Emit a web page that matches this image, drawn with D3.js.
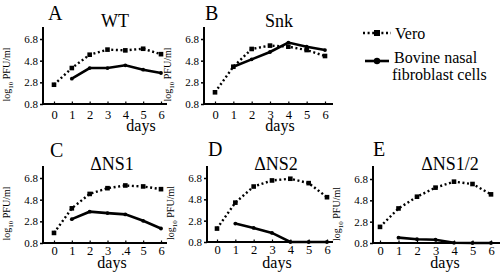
<!DOCTYPE html>
<html><head><meta charset="utf-8">
<script src="https://cdn.jsdelivr.net/npm/d3@7"></script>
<style>
html,body{margin:0;padding:0;background:#fff;}
svg{display:block;}
svg text{font-family:"Liberation Serif","DejaVu Serif",serif !important;}
</style></head>
<body>
<svg id="c" width="503" height="278"></svg>
<script>
const days = [0,1,2,3,4,5,6];
const yTicks = [0.8, 2.8, 4.8, 6.8];
const xLabelsDefault = ["0","1","2","3","4","5","6"];
const xLabelsC = ["0","1","2","3",".4","5","6"];
const panelLetters = ["A","B","C","D","E"];
const panelTitles = ["WT","Snk","\u0394NS1","\u0394NS2","\u0394NS1/2"];
const seriesNames = ["Vero","Bovine nasal fibroblast cells"];

const veroA = [2.58,4.12,5.35,5.82,5.75,5.9,5.4];
const bnfA  = [null,3.14,4.12,4.12,4.37,3.97,3.66];
const veroB = [1.88,4.24,5.88,6.19,6.09,5.78,5.23];
const bnfB  = [null,4.24,4.92,5.6,6.47,6.09,5.78];
const veroC = [1.73,4.0,5.33,5.86,6.11,6.02,5.77];
const bnfC  = [null,3.0,3.69,3.56,3.44,2.85,2.14];
const veroD = [2.06,4.49,6.0,6.57,6.73,6.32,5.0];
const bnfD  = [null,2.53,2.12,1.65,0.8,0.8,0.8];
const veroE = [2.31,4.04,5.14,5.99,6.55,6.33,5.36];
const bnfE  = [null,1.3,1.15,1.11,0.82,0.8,0.8];

const veroAll = [veroA,veroB,veroC,veroD,veroE];
const bnfAll = [bnfA,bnfB,bnfC,bnfD,bnfE];
const xLabelsAll = [xLabelsDefault,xLabelsDefault,xLabelsC,xLabelsDefault,xLabelsDefault];

// layout (pixel geometry of each panel)
const layout = [
  {ax:43,  top:27,  y0:104, y1:39,  x0:54,  x6:161, right:167, pad:6, daysX:141, daysY:131, letX:48,  letY:20,  titX:115, titY:27},
  {ax:204, top:27,  y0:104, y1:39,  x0:215, x6:325, right:333, pad:6, daysX:280, daysY:131, letX:205, letY:20,  titX:279, titY:27},
  {ax:43,  top:166, y0:243, y1:178, x0:54,  x6:161, right:167, pad:3, daysX:112, daysY:268, letX:50,  letY:157, titX:112, titY:170},
  {ax:207, top:166, y0:242, y1:178, x0:217, x6:327, right:333, pad:3, daysX:277, daysY:268, letX:208, letY:156, titX:276, titY:170},
  {ax:373, top:166, y0:243, y1:179, x0:380, x6:491, right:500, pad:3, daysX:445, daysY:268, letX:373, letY:156, titX:450, titY:170}
];

const svg = d3.select("#c");

layout.forEach((L,i)=>{
  const g = svg.append("g");
  const x = d3.scaleLinear().domain([0,6]).range([L.x0,L.x6]);
  const y = d3.scaleLinear().domain([0.8,6.8]).range([L.y0,L.y1]);

  // y axis
  const yAx = d3.axisLeft(y).tickValues(yTicks).tickFormat(d3.format(".1f")).tickSize(3).tickPadding(2);
  const gy = g.append("g").attr("transform",`translate(${L.ax},0)`).call(yAx);
  gy.select(".domain").remove();
  gy.selectAll(".tick line").attr("stroke","#000").attr("stroke-width",1.5);
  gy.selectAll("text").attr("font-size",11).attr("fill","#000");
  g.append("line").attr("x1",L.ax).attr("x2",L.ax).attr("y1",L.top).attr("y2",L.y0+1)
    .attr("stroke","#000").attr("stroke-width",2);

  // x axis
  const xAx = d3.axisBottom(x).tickValues(days).tickFormat((d,j)=>xLabelsAll[i][j]).tickSize(0).tickPadding(L.pad);
  const gx = g.append("g").attr("transform",`translate(0,${L.y0})`).call(xAx);
  gx.select(".domain").remove();
  gx.selectAll("text").attr("font-size",12.5).attr("fill","#000");
  gx.selectAll(".tick").append("line").attr("y1",0).attr("y2",-2.5).attr("stroke","#000").attr("stroke-width",1.2);
  g.append("line").attr("x1",L.ax-1).attr("x2",L.right).attr("y1",L.y0).attr("y2",L.y0)
    .attr("stroke","#000").attr("stroke-width",2);

  // labels
  g.append("text").attr("x",L.daysX).attr("y",L.daysY).attr("text-anchor","middle")
    .attr("font-size",16).text("days");
  const yl = g.append("text").attr("transform",`translate(${L.ax-33},${(L.y0+L.y1)/2 + 3}) rotate(-90)`)
    .attr("text-anchor","middle").attr("font-size",10);
  yl.append("tspan").text("log");
  yl.append("tspan").attr("font-size",7).attr("dy",2.5).text("10");
  yl.append("tspan").attr("dy",-2.5).text(" PFU/ml");

  g.append("text").attr("x",L.letX).attr("y",L.letY).attr("font-size",20).text(panelLetters[i]);
  g.append("text").attr("x",L.titX).attr("y",L.titY).attr("text-anchor","middle").attr("font-size",18).text(panelTitles[i]);

  // series
  const vd = days.map((d,j)=>({d, v:veroAll[i][j]})).filter(p=>p.v!=null);
  const bd = days.map((d,j)=>({d, v:bnfAll[i][j]})).filter(p=>p.v!=null);
  const line = d3.line().x(p=>x(p.d)).y(p=>y(p.v));

  g.append("path").attr("d",line(bd)).attr("fill","none").attr("stroke","#000").attr("stroke-width",2.6);
  g.selectAll(".bdot").data(bd).enter().append("circle").attr("cx",p=>x(p.d)).attr("cy",p=>y(p.v))
    .attr("r",1.9).attr("fill","#000");

  g.append("path").attr("d",line(vd)).attr("fill","none").attr("stroke","#000").attr("stroke-width",2.4)
    .attr("stroke-dasharray","2,2.6");
  g.selectAll(".vsq").data(vd).enter().append("rect").attr("x",p=>x(p.d)-2.3).attr("y",p=>y(p.v)-2.3)
    .attr("width",4.6).attr("height",4.6).attr("fill","#000");
});

// legend
const lg = svg.append("g");
lg.append("line").attr("x1",363).attr("x2",391).attr("y1",33).attr("y2",33)
  .attr("stroke","#000").attr("stroke-width",2.4).attr("stroke-dasharray","2,2.6");
lg.append("rect").attr("x",374).attr("y",30).attr("width",6).attr("height",6).attr("fill","#000");
lg.append("text").attr("x",395).attr("y",39).attr("font-size",16).text(seriesNames[0]);
lg.append("line").attr("x1",365).attr("x2",389).attr("y1",61).attr("y2",61)
  .attr("stroke","#000").attr("stroke-width",2.6);
lg.append("circle").attr("cx",377).attr("cy",61).attr("r",3.2).attr("fill","#000");
lg.append("text").attr("x",394).attr("y",63).attr("font-size",16).text("Bovine nasal");
lg.append("text").attr("x",392).attr("y",80).attr("font-size",16).text("fibroblast cells");
</script>
</body></html>
